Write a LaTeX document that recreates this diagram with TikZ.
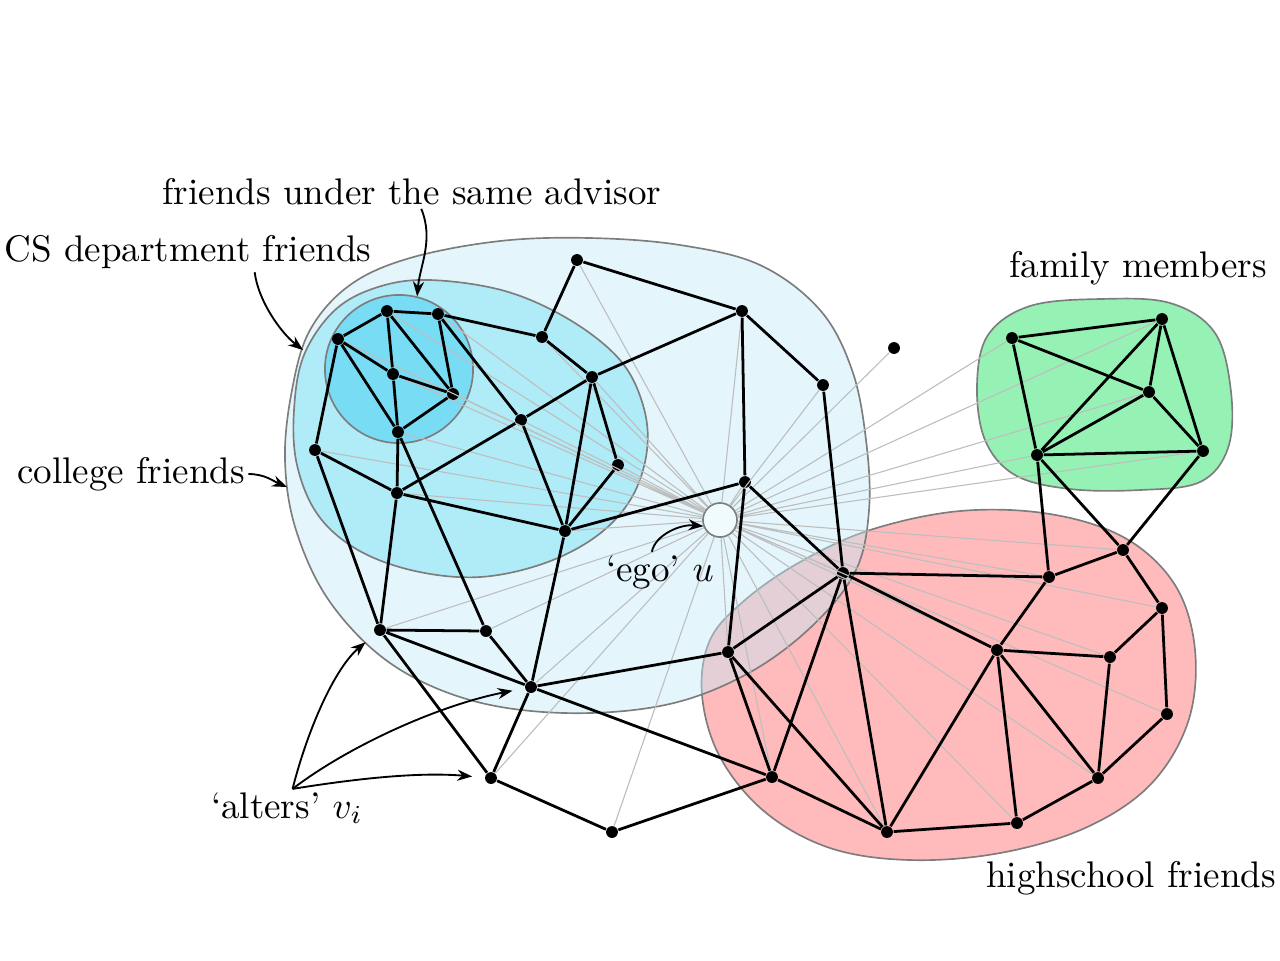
\documentclass[tikz,border=0pt]{standalone}
\usepackage{amsmath,amssymb}
\usetikzlibrary{arrows.meta}

\begin{document}
\begin{tikzpicture}[x=0.27pt,y=0.27pt,yscale=-1,xscale=1,
  vtx/.style={circle,fill=black,inner sep=0pt,minimum size=3.2pt},
  link/.style={line width=0.75pt},
  ray/.style={draw={rgb, 255:red, 190; green, 190; blue, 190 },line width=0.3pt},
  region/.style={draw={rgb, 255:red, 125; green, 125; blue, 125 },line width=0.45pt},
  lblarrow/.style={line width=0.5pt,-{Stealth[length=4pt,width=3pt]}},
  lbl/.style={inner sep=0.75pt}]
\useasboundingbox (0,0) rectangle (1280,960);

%Shape: Blob [highschool]
\draw [region, fill={rgb, 255:red, 255; green, 187; blue, 187 }] plot [smooth cycle, tension=0.6] coordinates {(960,511) (1050,514) (1125,538) (1175,585) (1195,650) (1188,722) (1150,785) (1085,828) (1000,853) (910,860) (830,848) (765,812) (720,757) (702,695) (710,640) (745,600) (800,562) (870,530)};
%Shape: Blob [college]
\draw [region, fill={rgb, 255:red, 192; green, 235; blue, 249 }, fill opacity=0.43] plot [smooth cycle, tension=0.6] coordinates {(590,238) (680,245) (760,265) (820,310) (852,370) (866,440) (869,510) (855,572) (810,628) (745,675) (665,705) (565,713) (470,700) (390,663) (330,602) (296,530) (285,460) (292,390) (310,330) (350,285) (410,258) (500,241)};
%Shape: Blob [CS department]
\draw [region, fill={rgb, 255:red, 176; green, 235; blue, 248 }] plot [smooth cycle, tension=0.6] coordinates {(430,280) (505,291) (570,320) (620,360) (643,405) (647,450) (632,497) (598,535) (545,563) (480,577) (415,571) (358,550) (318,515) (297,465) (294,410) (304,355) (335,310) (378,287)};
%Shape: Circle [advisor]
\draw (399,369) node [region, circle, fill={rgb, 255:red, 120; green, 220; blue, 245 }, minimum size=40pt, inner sep=0pt] (advisor) {};
%Shape: Blob [family]
\draw [region, fill={rgb, 255:red, 150; green, 241; blue, 180 }] plot [smooth cycle, tension=0.6] coordinates {(1100,299) (1170,303) (1215,333) (1231,392) (1228,448) (1200,482) (1140,490) (1070,489) (1015,475) (985,440) (977,385) (988,335) (1030,306)};

% Vertices
\draw (387,311) node [vtx] (adv1) {};
\draw (438,314) node [vtx] (adv2) {};
\draw (338,339) node [vtx] (adv3) {};
\draw (393,374) node [vtx] (adv4) {};
\draw (453,394) node [vtx] (adv5) {};
\draw (398,432) node [vtx] (adv6) {};
\draw (542,337) node [vtx] (cs1) {};
\draw (592,377) node [vtx] (cs2) {};
\draw (521,420) node [vtx] (cs3) {};
\draw (315,450) node [vtx] (cs4) {};
\draw (397,493) node [vtx] (cs5) {};
\draw (618,465) node [vtx] (cs6) {};
\draw (565,531) node [vtx] (cs7) {};
\draw (577,260) node [vtx] (col1) {};
\draw (742,311) node [vtx] (col2) {};
\draw (823,385) node [vtx] (col3) {};
\draw (745,482) node [vtx] (col4) {};
\draw (380,630) node [vtx] (col5) {};
\draw (486,631) node [vtx] (col6) {};
\draw (531,687) node [vtx] (col7) {};
\draw (612,832) node [vtx] (oth1) {};
\draw (491,778) node [vtx] (oth2) {};
\draw (894,348) node [vtx] (oth3) {};
\draw (843,573) node [vtx] (hs1) {};
\draw (1049,577) node [vtx] (hs2) {};
\draw (1123,550) node [vtx] (hs3) {};
\draw (1162,608) node [vtx] (hs4) {};
\draw (997,650) node [vtx] (hs5) {};
\draw (1110,657) node [vtx] (hs6) {};
\draw (1167,714) node [vtx] (hs7) {};
\draw (1098,778) node [vtx] (hs8) {};
\draw (1017,823) node [vtx] (hs9) {};
\draw (887,832) node [vtx] (hs10) {};
\draw (772,777) node [vtx] (hs11) {};
\draw (728,652) node [vtx] (hs12) {};
\draw (1012,338) node [vtx] (fam1) {};
\draw (1162,319) node [vtx] (fam2) {};
\draw (1149,392) node [vtx] (fam3) {};
\draw (1037,455) node [vtx] (fam4) {};
\draw (1203,451) node [vtx] (fam5) {};
%Shape: Circle [ego]
\draw (720,520) node [region, circle, fill={rgb, 255:red, 240; green, 251; blue, 254 }, minimum size=9.2pt, inner sep=0pt] (ego) {};

%Straight Lines [ego to alters]
\draw [ray] (ego) -- (adv1) (ego) -- (adv2) (ego) -- (adv3) (ego) -- (adv4) (ego) -- (adv5) (ego) -- (adv6)
  (ego) -- (cs1) (ego) -- (cs2) (ego) -- (cs3) (ego) -- (cs4) (ego) -- (cs5) (ego) -- (cs6) (ego) -- (cs7)
  (ego) -- (col1) (ego) -- (col2) (ego) -- (col3) (ego) -- (col4) (ego) -- (col5) (ego) -- (col6) (ego) -- (col7)
  (ego) -- (oth1) (ego) -- (oth2) (ego) -- (oth3)
  (ego) -- (hs1) (ego) -- (hs2) (ego) -- (hs3) (ego) -- (hs4) (ego) -- (hs5) (ego) -- (hs6)
  (ego) -- (hs7) (ego) -- (hs8) (ego) -- (hs9) (ego) -- (hs10) (ego) -- (hs11) (ego) -- (hs12)
  (ego) -- (fam1) (ego) -- (fam2) (ego) -- (fam3) (ego) -- (fam4) (ego) -- (fam5);

%Straight Lines [friendships]
\draw [link] (adv3) -- (adv1) -- (adv2) -- (adv5) -- (adv6) -- (adv3) -- (adv4) -- (adv5)
  (adv1) -- (adv4) -- (adv6) (adv1) -- (adv5);
\draw [link] (adv3) -- (cs4) -- (cs5) -- (cs7) -- (cs6) -- (cs2) -- (cs7) -- (cs3) -- (cs2) -- (cs1) -- (adv2) -- (cs3) -- (cs5) -- (adv6)
  (cs1) -- (col1) -- (col2) -- (cs2) (cs4) -- (col5) -- (cs5) (adv6) -- (col6) (cs7) -- (col7) (cs7) -- (col4);
\draw [link] (col2) -- (col3) -- (hs1) (col2) -- (col4) -- (hs1) (col4) -- (hs12)
  (col5) -- (col6) -- (col7) -- (col5) -- (oth2) -- (col7) -- (hs12) (col7) -- (hs11) -- (oth1) -- (oth2);
\draw [link] (hs12) -- (hs1) -- (hs11) -- (hs12) -- (hs10) -- (hs1) -- (hs2) -- (hs3) -- (hs4) -- (hs7) -- (hs8) -- (hs9) -- (hs10) -- (hs11)
  (hs1) -- (hs5) -- (hs10) (hs5) -- (hs9) (hs5) -- (hs8) -- (hs6) -- (hs4) (hs5) -- (hs6) (hs5) -- (hs2);
\draw [link] (fam1) -- (fam2) -- (fam5) -- (fam4) -- (fam1) -- (fam3) -- (fam2) -- (fam4) -- (fam3) -- (fam5)
  (fam4) -- (hs2) (fam4) -- (hs3) -- (fam5);

% Text Node
\draw (412,192) node [lbl] (advlbl) {friends under the same advisor};
% Text Node
\draw (188,252) node [lbl] (cslbl) {CS department friends};
% Text Node
\draw (131,474) node [lbl] (collbl) {college friends};
% Text Node
\draw (1138,268) node [lbl] (famlbl) {family members};
% Text Node
\draw (1131,878) node [lbl] (hslbl) {highschool friends};
% Text Node
\draw (660,572) node [lbl] (egolbl) {`ego' $u$};
% Text Node
\draw (287,808) node [lbl] (altlbl) {`alters' $v_i$};

\coordinate (cstip) at (303,350);
\coordinate (coltip) at (287,487);

%Curve Lines [label arrows]
\draw [lblarrow] ([xshift=2.5pt]advlbl.south) .. controls (434,240) and (420,265) .. (advisor.76);
\draw [lblarrow] ([xshift=18pt]cslbl.south) .. controls (258,300) and (280,332) .. (cstip);
\draw [lblarrow] (collbl.east) .. controls (265,474) and (273,481) .. (coltip);
\draw [lblarrow] ([xshift=-2.2pt]egolbl.north) .. controls (655,535) and (680,524) .. (ego.200);
\draw [lblarrow, shorten >=3.3pt] ([xshift=1.5pt]altlbl.north) .. controls (308,728) and (335,668) .. (col5);
\draw [lblarrow, shorten >=3.3pt] ([xshift=1.5pt]altlbl.north) .. controls (350,745) and (440,705) .. (col7);
\draw [lblarrow, shorten >=3.3pt] ([xshift=1.5pt]altlbl.north) .. controls (360,778) and (420,772) .. (oth2);

\end{tikzpicture}
\end{document}
